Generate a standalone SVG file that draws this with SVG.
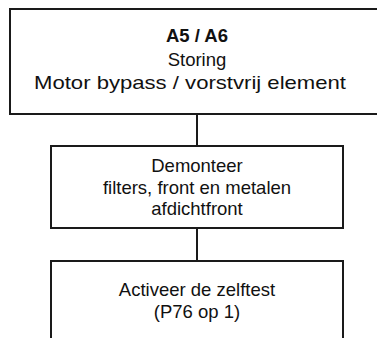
<svg xmlns="http://www.w3.org/2000/svg" width="377" height="338" viewBox="0 0 377 338">
<style>
.box{fill:#fff;stroke:#1a1a1a;stroke-width:2}
.ln{stroke:#1a1a1a;stroke-width:2;fill:none}
text{font-family:"Liberation Sans",Arial,sans-serif;font-size:18.5px;fill:#111;text-anchor:middle}
.b{font-weight:bold}
</style>
<g id="connectors">
<line class="ln" x1="197" y1="114" x2="197" y2="146"/>
<line class="ln" x1="197" y1="228" x2="197" y2="261"/>
</g>
<g id="node-a5a6">
<rect class="box" x="10" y="9" width="380" height="105"/>
<text x="197" y="42" class="b">A5 / A6</text>
<text x="197" y="65.5">Storing</text>
<text x="190" y="88.5" textLength="312" lengthAdjust="spacingAndGlyphs">Motor bypass / vorstvrij element</text>
</g>
<g id="node-demonteer">
<rect class="box" x="51" y="146" width="292" height="82"/>
<text x="197" y="172">Demonteer</text>
<text x="197" y="193.5">filters, front en metalen</text>
<text x="197" y="215">afdichtfront</text>
</g>
<g id="node-zelftest">
<rect class="box" x="51" y="261" width="292" height="90"/>
<text x="197" y="296">Activeer de zelftest</text>
<text x="197" y="318">(P76 op 1)</text>
</g>
</svg>
